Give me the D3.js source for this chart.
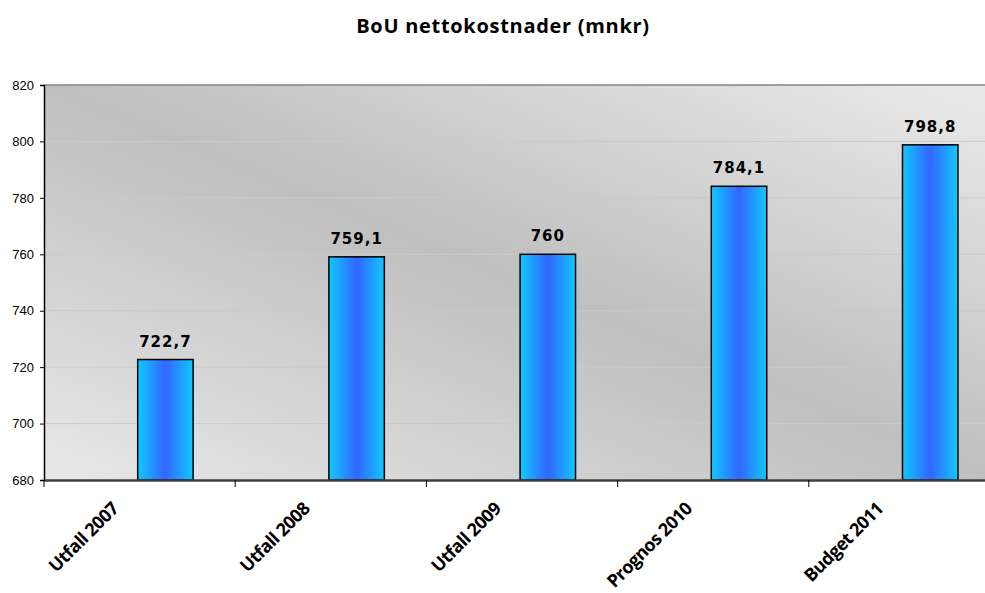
<!doctype html>
<html>
<head>
<meta charset="utf-8">
<script src="https://cdn.jsdelivr.net/npm/d3@7"></script>
<style>
  body { margin: 0; background: #fff; }
  svg { display: block; }
</style>
</head>
<body>
<svg id="chart" width="985" height="593"></svg>
<script>
var categories = ["Utfall 2007", "Utfall 2008", "Utfall 2009", "Prognos 2010", "Budget 2011"];
var values = [722.7, 759.1, 760, 784.1, 798.8];
var valueLabels = ["722,7", "759,1", "760", "784,1", "798,8"];
var yTicks = [680, 700, 720, 740, 760, 780, 800, 820];

var svg = d3.select("#chart");
var plotLeft = 44, plotTop = 85, plotBottom = 480, plotRight = 1000;

var x = d3.scaleBand().domain(categories).range([plotLeft, plotRight]);
var y = d3.scaleLinear().domain([680, 820]).range([plotBottom, plotTop]);

var defs = svg.append("defs");
var bg = defs.append("linearGradient").attr("id", "bg")
  .attr("x1", 1).attr("y1", 0).attr("x2", 0).attr("y2", 1);
bg.append("stop").attr("offset", "0%").attr("stop-color", "#ebebeb");
bg.append("stop").attr("offset", "50%").attr("stop-color", "#bfbfbf");
bg.append("stop").attr("offset", "100%").attr("stop-color", "#e8e8e8");

var bar = defs.append("linearGradient").attr("id", "bar")
  .attr("x1", 0).attr("y1", 0).attr("x2", 1).attr("y2", 0);
bar.append("stop").attr("offset", "0%").attr("stop-color", "#10c8ff");
bar.append("stop").attr("offset", "50%").attr("stop-color", "#3366ff");
bar.append("stop").attr("offset", "100%").attr("stop-color", "#10c8ff");

// plot background
svg.append("rect")
  .attr("x", plotLeft).attr("y", plotTop)
  .attr("width", plotRight - plotLeft).attr("height", plotBottom - plotTop)
  .attr("fill", "url(#bg)");

// gridlines
svg.append("g").selectAll("line")
  .data(yTicks.slice(1, -1))
  .enter().append("line")
  .attr("x1", plotLeft).attr("x2", plotRight)
  .attr("y1", d => y(d)).attr("y2", d => y(d))
  .attr("stroke", "#cacaca").attr("stroke-width", 1);

// top border
svg.append("line")
  .attr("x1", plotLeft).attr("x2", plotRight)
  .attr("y1", y(820)).attr("y2", y(820))
  .attr("stroke", "#858585").attr("stroke-width", 1.5);

// title
svg.append("text")
  .attr("x", 503).attr("y", 33)
  .attr("text-anchor", "middle")
  .style("font-family", "'Open Sans', sans-serif")
  .style("font-weight", "bold")
  .style("font-size", "20px")
  .style("letter-spacing", "0.7px")
  .text("BoU nettokostnader (mnkr)");

// bars
var bw = x.bandwidth();
svg.append("g").selectAll("rect")
  .data(values)
  .enter().append("rect")
  .attr("x", (d, i) => x(categories[i]) + bw * 0.49)
  .attr("width", bw * 0.29)
  .attr("y", d => y(d))
  .attr("height", d => y(680) - y(d))
  .attr("fill", "url(#bar)")
  .attr("stroke", "#000")
  .attr("stroke-width", 1.5);

// value labels
svg.append("g").selectAll("text")
  .data(values)
  .enter().append("text")
  .attr("x", (d, i) => x(categories[i]) + bw * 0.635)
  .attr("y", d => y(d) - 13)
  .attr("text-anchor", "middle")
  .style("font-family", "'DejaVu Sans', sans-serif")
  .style("font-weight", "bold")
  .style("font-size", "15px")
  .style("letter-spacing", "1px")
  .text((d, i) => valueLabels[i]);

// y axis
var yAxis = svg.append("g")
  .attr("transform", `translate(${plotLeft},0)`)
  .call(d3.axisLeft(y).tickValues(yTicks).tickSize(4).tickPadding(6).tickFormat(d3.format("d")));
yAxis.select(".domain").attr("stroke", "#000").attr("stroke-width", 1.5);
yAxis.selectAll(".tick line").attr("stroke", "#000");
yAxis.selectAll(".tick text")
  .style("font-family", "'Liberation Sans', Arial, sans-serif")
  .style("font-size", "13px")
  .attr("fill", "#000");

// x axis
var xAxis = svg.append("g")
  .attr("transform", `translate(0,${plotBottom})`)
  .call(d3.axisBottom(x).tickSize(0).tickFormat(""));
xAxis.select(".domain").attr("stroke", "#404040").attr("stroke-width", 2.5);
xAxis.selectAll(".tick").remove();

svg.append("g").selectAll("line")
  .data(categories)
  .enter().append("line")
  .attr("x1", d => x(d)).attr("x2", d => x(d))
  .attr("y1", plotBottom).attr("y2", plotBottom + 7)
  .attr("stroke", "#000");

// category labels
svg.append("g").selectAll("text")
  .data(categories)
  .enter().append("text")
  .attr("transform", d => `translate(${x(d) + bw / 2 - 20},${plotBottom + 30}) rotate(-45)`)
  .attr("text-anchor", "end")
  .style("font-family", "'Open Sans', sans-serif")
  .style("font-weight", "bold")
  .style("font-size", "18px")
  .style("letter-spacing", "-0.6px")
  .text(d => d);
</script>
</body>
</html>
